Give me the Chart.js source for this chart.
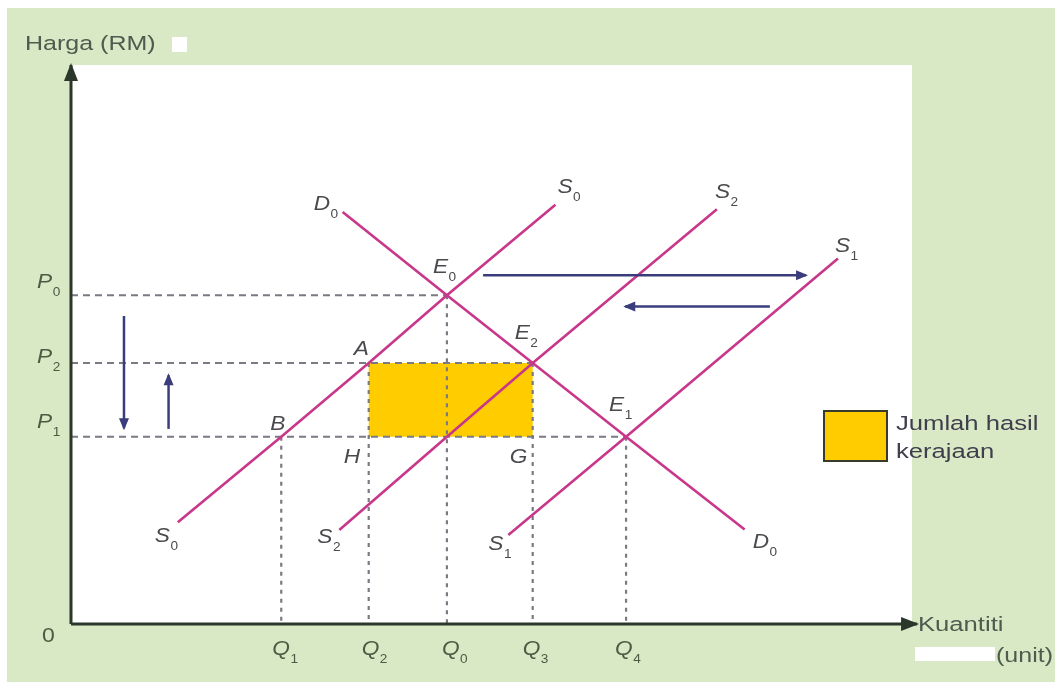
<!DOCTYPE html>
<html><head><meta charset="utf-8">
<script src="https://cdn.jsdelivr.net/npm/chart.js@4.4.0/dist/chart.umd.min.js"></script>
<style>html,body{margin:0;padding:0;background:#fff;}canvas{display:block;}</style>
</head><body>
<canvas id="c" width="1055" height="683"></canvas>
<script>
// ---- values (chart units: quantity 0..100 on x, price 0..100 on y) ----
const Q1 = 25.0, Q2 = 35.4, Q0 = 44.7, Q3 = 54.9, Q4 = 66.0;
const P1 = 33.5, P2 = 46.7, P0 = 58.8;

const quantityTicks = [Q1, Q2, Q0, Q3, Q4];
const quantitySubs  = ['1', '2', '0', '3', '4'];
const priceTicks = [P0, P2, P1];
const priceSubs  = ['0', '2', '1'];

const demandD0 = [[32.3, 73.7], [Q0, P0], [Q3, P2], [Q4, P1], [80.1, 16.9]];
const supplyS0 = [[12.7, 18.2], [Q1, P1], [Q2, P2], [Q0, P0], [57.6, 75.0]];
const supplyS2 = [[31.9, 16.8], [Q0, P1], [Q3, P2], [76.8, 74.2]];
const supplyS1 = [[52.0, 15.9], [Q4, P1], [91.2, 65.4]];

const revenueBox = [[Q2, P1], [Q3, P1], [Q3, P2], [Q2, P2], [Q2, P1]];

const arrowShiftRight = [[49.0, 62.4], [87.4, 62.4]];
const arrowShiftLeft  = [[83.1, 56.8], [65.9, 56.8]];
const arrowPriceDown  = [[6.3, 55.1], [6.3, 35.0]];
const arrowPriceUp    = [[11.6, 34.9], [11.6, 44.5]];

const axisY = [[0, 0], [0, 100]];
const axisX = [[0, 0], [100.6, 0]];

// guide lines built from the equilibrium values
const guidesH = [[P0, Q0], [P2, Q3], [P1, Q4]].map(([p, q]) => [[0, p], [q, p]]);
const guidesV = [[Q1, P1], [Q2, P2], [Q0, P0], [Q3, P2], [Q4, P1]].map(([q, p]) => [[q, p], [q, 0]]);

// ---- styles ----
const PINK = '#c8378a', NAVY = '#3a3c7c', DASH = '#7a7a84', AXIS = '#2c372c';
const GOLD = '#ffcc00';
const TXT = '#4a4a4e', OLIVE = '#4a5c44';
const FONT = "'Liberation Sans', Arial, sans-serif";

const toPts = arr => arr.map(([x, y]) => ({x, y}));
function lineDS(data, color, width, extra) {
  return Object.assign({
    data: toPts(data), showLine: true, borderColor: color, borderWidth: width,
    pointRadius: 0, pointHoverRadius: 0, fill: false, tension: 0, clip: false,
    borderCapStyle: 'butt'
  }, extra || {});
}

const datasets = [];
datasets.push(lineDS(axisY, AXIS, 3, {order: 0, arrowHead: {len: 18, half: 7}}));
datasets.push(lineDS(axisX, AXIS, 3, {order: 0, arrowHead: {len: 18, half: 7}}));
[arrowShiftRight, arrowShiftLeft, arrowPriceDown, arrowPriceUp].forEach(a =>
  datasets.push(lineDS(a, NAVY, 2.5, {order: 1, arrowHead: {len: 12, half: 5}})));
[demandD0, supplyS0, supplyS2, supplyS1].forEach(c =>
  datasets.push(lineDS(c, PINK, 2.6, {order: 2})));
guidesH.forEach(g => datasets.push(lineDS(g, DASH, 2, {order: 3, borderDash: [7, 5]})));
guidesV.forEach(g => datasets.push(lineDS(g, DASH, 2.2, {order: 3, borderDash: [4, 5]})));
datasets.push(lineDS(revenueBox, 'rgba(0,0,0,0)', 1, {order: 4, fill: 'shape', backgroundColor: GOLD}));

// ---- text helpers ----
function sText(ctx, str, x, y, font, color, sx) {
  ctx.save();
  ctx.font = font; ctx.fillStyle = color; ctx.textBaseline = 'alphabetic'; ctx.textAlign = 'left';
  ctx.translate(x, y); ctx.scale(sx, 1); ctx.fillText(str, 0, 0);
  const w = ctx.measureText(str).width * sx;
  ctx.restore();
  return w;
}
function subText(ctx, main, sub, x, y, color) {
  const w = sText(ctx, main, x, y, 'italic 21px ' + FONT, color, 1.08);
  sText(ctx, sub, x + w + 0.5, y + 8, '13px ' + FONT, color, 1.05);
}

// label layout: anchored to chart values, offset in pixels
const pointLabels = [
  {m: 'E', s: '0', at: [Q0, P0], dx: -14, dy: -22},
  {m: 'E', s: '2', at: [Q3, P2], dx: -18, dy: -24},
  {m: 'E', s: '1', at: [Q4, P1], dx: -17, dy: -26},
  {m: 'A', s: '',  at: [Q2, P2], dx: -15, dy: -8},
  {m: 'B', s: '',  at: [Q1, P1], dx: -11, dy: -7},
  {m: 'H', s: '',  at: [Q2, P1], dx: -25, dy: 26},
  {m: 'G', s: '',  at: [Q3, P1], dx: -23, dy: 26},
  {m: 'D', s: '0', at: demandD0[0], dx: -29, dy: -2},
  {m: 'D', s: '0', at: demandD0[demandD0.length - 1], dx: 8, dy: 18},
  {m: 'S', s: '0', at: supplyS0[supplyS0.length - 1], dx: 2, dy: -12},
  {m: 'S', s: '0', at: supplyS0[0], dx: -23, dy: 20},
  {m: 'S', s: '2', at: supplyS2[supplyS2.length - 1], dx: -2, dy: -11},
  {m: 'S', s: '2', at: supplyS2[0], dx: -22, dy: 13},
  {m: 'S', s: '1', at: supplyS1[supplyS1.length - 1], dx: -3, dy: -6},
  {m: 'S', s: '1', at: supplyS1[0], dx: -20, dy: 15}
];
const qTickDx = [-9, -7, -5, -10, -11];
const pTickDy = [-7, 0, -9];

const background = {
  id: 'background',
  beforeDraw(chart) {
    const {ctx, chartArea: a, width, height} = chart;
    ctx.save();
    ctx.fillStyle = '#ffffff'; ctx.fillRect(0, 0, width, height);
    ctx.fillStyle = '#d9e8c5'; ctx.fillRect(7, 8, width - 7, 674);
    ctx.fillStyle = '#ffffff'; ctx.fillRect(a.left, a.top, a.right - a.left, a.bottom - a.top);
    ctx.fillRect(172, 37, 15, 15);
    ctx.fillRect(915, 647, 80, 14);
    ctx.restore();
  }
};

const arrowHeads = {
  id: 'arrowHeads',
  afterDatasetsDraw(chart) {
    const ctx = chart.ctx;
    chart.data.datasets.forEach((ds, i) => {
      if (!ds.arrowHead) return;
      const pts = chart.getDatasetMeta(i).data;
      const a = pts[pts.length - 2], b = pts[pts.length - 1];
      const ang = Math.atan2(b.y - a.y, b.x - a.x);
      const {len, half} = ds.arrowHead;
      ctx.save();
      ctx.translate(b.x, b.y); ctx.rotate(ang);
      ctx.beginPath();
      ctx.moveTo(2, 0); ctx.lineTo(2 - len, -half); ctx.lineTo(2 - len, half); ctx.closePath();
      ctx.fillStyle = ds.borderColor; ctx.fill();
      ctx.restore();
    });
  }
};

const labels = {
  id: 'labels',
  afterDraw(chart) {
    const ctx = chart.ctx, xs = chart.scales.x, ys = chart.scales.y;
    const px = v => xs.getPixelForValue(v), py = v => ys.getPixelForValue(v);
    pointLabels.forEach(l => subText(ctx, l.m, l.s, px(l.at[0]) + l.dx, py(l.at[1]) + l.dy, TXT));
    quantityTicks.forEach((q, i) => subText(ctx, 'Q', quantitySubs[i], px(q) + qTickDx[i], py(0) + 31, OLIVE));
    priceTicks.forEach((p, i) => subText(ctx, 'P', priceSubs[i], px(0) - 34, py(p) + pTickDy[i], OLIVE));
    sText(ctx, '0', px(0) - 29, py(0) + 18, '20px ' + FONT, OLIVE, 1.15);
    sText(ctx, 'Harga (RM)', 25, 50, '20.5px ' + FONT, '#4e5b4e', 1.22);
    sText(ctx, 'Kuantiti', 918, 631, '20.5px ' + FONT, '#4e5b4e', 1.25);
    sText(ctx, '(unit)', 996, 662, '20.5px ' + FONT, '#4e5b4e', 1.22);
    // legend
    ctx.save();
    ctx.fillStyle = GOLD; ctx.fillRect(824, 411, 63, 50);
    ctx.strokeStyle = '#3a3a2a'; ctx.lineWidth = 2; ctx.strokeRect(824, 411, 63, 50);
    ctx.restore();
    sText(ctx, 'Jumlah hasil', 896, 430, '20.5px ' + FONT, '#3e3e4c', 1.25);
    sText(ctx, 'kerajaan', 896, 458, '20.5px ' + FONT, '#3e3e4c', 1.25);
  }
};

new Chart(document.getElementById('c'), {
  type: 'scatter',
  data: {datasets},
  options: {
    responsive: false, animation: false, devicePixelRatio: 1,
    layout: {padding: {left: 71, top: 65, right: 143, bottom: 59}},
    scales: {
      x: {type: 'linear', min: 0, max: 100, display: false},
      y: {type: 'linear', min: 0, max: 100, display: false}
    },
    plugins: {legend: {display: false}, tooltip: {enabled: false}},
    events: []
  },
  plugins: [background, arrowHeads, labels]
});
</script>
</body></html>
